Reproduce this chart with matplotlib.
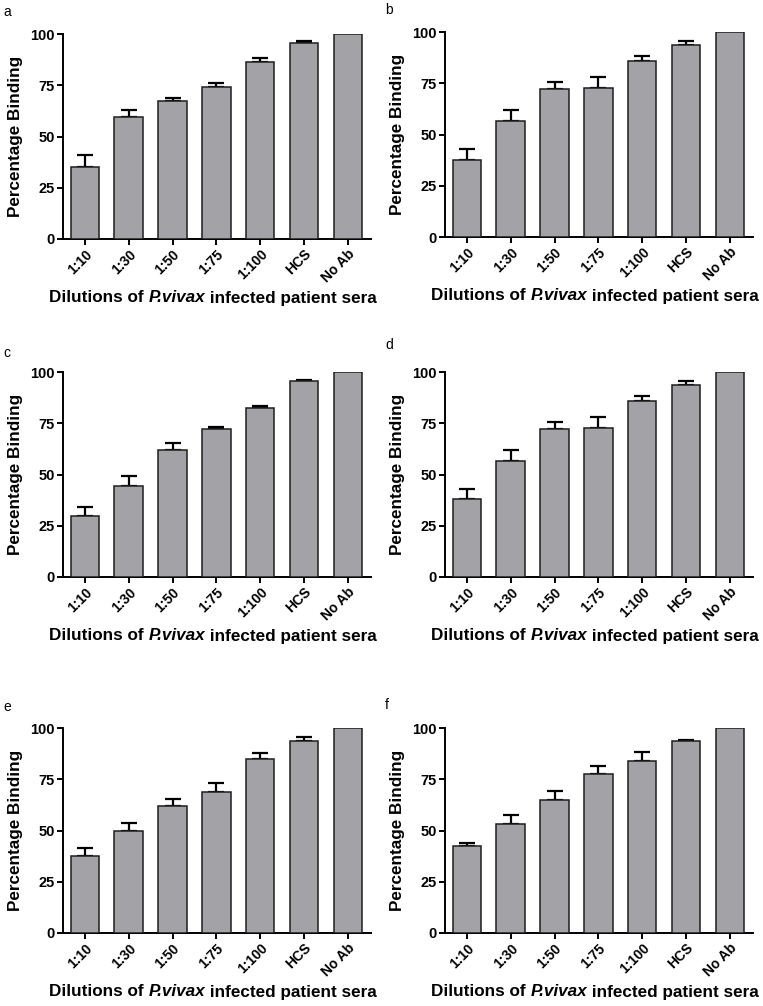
import numpy as np
import matplotlib.pyplot as plt

plt.rcParams['font.family'] = ['Liberation Sans', 'DejaVu Sans']

labels = ["1:10", "1:30", "1:50", "1:75", "1:100", "HCS", "No Ab"]

mean_a = [35.3, 59.5, 67.2, 74.1, 86.2, 95.4, 100]
err_a = [5.7, 3.3, 1.6, 2.2, 2.1, 1.3, 0]
mean_b = [37.7, 56.7, 72.2, 72.7, 85.9, 93.8, 100]
err_b = [5.0, 5.4, 3.2, 5.5, 2.2, 1.8, 0]
mean_c = [29.6, 44.6, 62.0, 72.2, 82.3, 95.4, 100]
err_c = [4.4, 4.9, 3.3, 1.1, 1.3, 0.7, 0]
mean_d = [37.9, 56.6, 72.2, 72.7, 86.0, 93.8, 100]
err_d = [4.9, 5.4, 3.2, 5.5, 2.1, 1.8, 0]
mean_e = [37.6, 49.9, 62.0, 68.9, 84.7, 93.5, 100]
err_e = [3.9, 3.6, 3.3, 4.1, 2.9, 1.9, 0]
mean_f = [42.6, 53.2, 65.0, 77.4, 84.1, 93.8, 100]
err_f = [1.5, 4.6, 4.1, 4.2, 4.2, 0.5, 0]

panels = [
    ("a", mean_a, err_a),
    ("b", mean_b, err_b),
    ("c", mean_c, err_c),
    ("d", mean_d, err_d),
    ("e", mean_e, err_e),
    ("f", mean_f, err_f),
]

W, H = 763, 1006
fig = plt.figure(figsize=(W / 100, H / 100), dpi=100)
renderer = fig.canvas.get_renderer()

# axes boxes in pixels: left, top (y=100), bottom (y=0), right
boxes = [
    (63, 34, 239, 371),
    (445, 32, 237, 753),
    (63, 372, 577, 371),
    (445, 372, 577, 753),
    (63, 728, 933, 371),
    (445, 728, 933, 753),
]
letter_pos = [(3, 12), (385, 10), (3, 353), (385, 345), (3, 707), (385, 705)]

x = np.arange(len(labels))
xparts = [("Dilutions of ", "normal"), ("P.vivax", "italic"), (" infected patient sera", "normal")]

for (letter, mean, err), (l, t, b, r), (lx, ly) in zip(panels, boxes, letter_pos):
    ax = fig.add_axes([l / W, 1 - b / H, (r - l) / W, (b - t) / H])
    ax.bar(x, mean, width=0.65, color="#a3a3a7", edgecolor="#1e1e1e",
           linewidth=1.1, zorder=3)
    up = np.array(err)
    mask = up > 0
    ax.errorbar(x[mask], np.array(mean)[mask],
                yerr=[np.zeros(mask.sum()), up[mask]],
                fmt="none", ecolor="black", elinewidth=1.6, capsize=5.6,
                capthick=1.6, zorder=2)
    ax.set_xlim(-0.5, 6.53)
    ax.set_ylim(0, 100)
    ax.set_yticks([0, 25, 50, 75, 100])
    ax.set_xticks(x)
    ax.set_xticklabels(labels, rotation=45, ha="right", rotation_mode="anchor",
                       fontsize=10, fontweight="bold")
    for lab in ax.get_yticklabels():
        lab.set_fontsize(10.5)
        lab.set_fontweight("bold")
    ax.spines["top"].set_visible(False)
    ax.spines["right"].set_visible(False)
    ax.spines["left"].set_linewidth(1.4)
    ax.spines["bottom"].set_linewidth(1.4)
    ax.tick_params(axis="both", width=1.4, length=4.3, pad=1.5)
    ax.set_ylabel("Percentage Binding", fontsize=12.3, fontweight="bold")
    ax.yaxis.set_label_coords(-47 / (r - l), 0.5)
    ax.yaxis.label.set_verticalalignment("center")

    # x label built from pieces so the species name is bold italic
    pieces = []
    for s, st in xparts:
        tx = fig.text(0, 1 - (b + 59) / H, s, fontsize=12.3, fontweight="bold",
                      style=st, va="center", ha="left")
        pieces.append(tx)
    widths = [p.get_window_extent(renderer).width for p in pieces]
    xpos = (l + r) / 2 - 4 - sum(widths) / 2
    for p, w in zip(pieces, widths):
        p.set_x(xpos / W)
        xpos += w

    fig.text(lx / W, 1 - ly / H, letter, fontsize=10, va="center", ha="left")

fig.savefig("out.png", dpi=100)
